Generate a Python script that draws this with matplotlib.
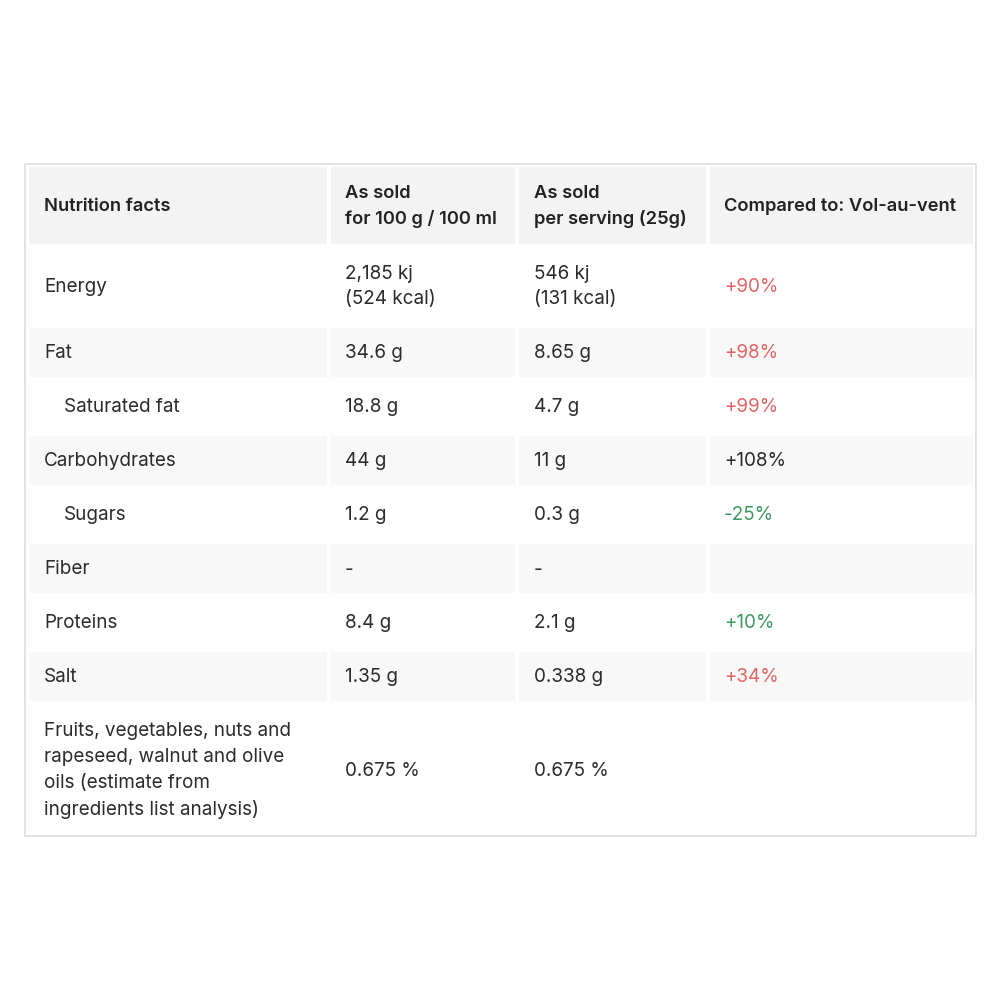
import matplotlib
matplotlib.use("Agg")
import matplotlib.pyplot as plt
from matplotlib.patches import Rectangle

plt.rcParams['font.family'] = ['Inter', 'DejaVu Sans']

headers = ["Nutrition facts", "As sold\nfor 100 g / 100 ml", "As sold\nper serving (25g)",
           "Compared to: Vol-au-vent"]
nutrients = ["Energy", "Fat", "Saturated fat", "Carbohydrates", "Sugars", "Fiber",
             "Proteins", "Salt",
             "Fruits, vegetables, nuts and\nrapeseed, walnut and olive\noils (estimate from\ningredients list analysis)"]
sub_item = [False, False, True, False, True, False, False, False, False]
per_100g = ["2,185 kj\n(524 kcal)", "34.6 g", "18.8 g", "44 g", "1.2 g", "-", "8.4 g",
            "1.35 g", "0.675 %"]
per_serving = ["546 kj\n(131 kcal)", "8.65 g", "4.7 g", "11 g", "0.3 g", "-", "2.1 g",
               "0.338 g", "0.675 %"]
compared = ["+90%", "+98%", "+99%", "+108%", "-25%", "", "+10%", "+34%", ""]
level = ["high", "high", "high", "neutral", "low", "", "low", "high", ""]

level_colors = {"high": "#e06666", "low": "#3f9a62", "neutral": "#2b2b2b", "": "#2b2b2b"}

# layout in pixels
col_edges = [(29, 327), (331, 515), (519, 706), (710, 973)]
text_x = [44, 345, 534, 724]
row_edges = [(167, 244), (248, 323), (328, 377), (381, 431), (436, 485), (490, 539),
             (544, 593), (598, 647), (652, 701), (706, 833)]

fig = plt.figure(figsize=(10, 10), dpi=100)
ax = fig.add_axes([0, 0, 1, 1])
ax.set_xlim(0, 1000)
ax.set_ylim(1000, 0)
ax.axis('off')

ax.add_patch(Rectangle((25, 164), 951, 672, facecolor='white', edgecolor='#dddddd', lw=1.2))

fs = 13.6
ls = 1.55
txt = '#2b2b2b'
for r, (y0, y1) in enumerate(row_edges):
    if r == 0:
        fill = '#f3f3f3'
    elif r % 2 == 0:
        fill = '#f8f8f8'
    else:
        fill = 'white'
    for (x0, x1) in col_edges:
        ax.add_patch(Rectangle((x0, y0), x1 - x0, y1 - y0, facecolor=fill, edgecolor='none'))
    yc = (y0 + y1) / 2 + 1
    if r == 0:
        for c, h in enumerate(headers):
            ax.text(text_x[c], yc, h, fontsize=13.2, fontweight='semibold', color='#222222',
                    va='center', ha='left', linespacing=1.5)
        continue
    i = r - 1
    x_name = text_x[0] + (20 if sub_item[i] else 0)
    ax.text(x_name, yc, nutrients[i], fontsize=fs, color=txt, va='center', ha='left',
            linespacing=ls)
    ax.text(text_x[1], yc, per_100g[i], fontsize=fs, color=txt, va='center', ha='left',
            linespacing=ls)
    ax.text(text_x[2], yc, per_serving[i], fontsize=fs, color=txt, va='center', ha='left',
            linespacing=ls)
    ax.text(text_x[3], yc, compared[i], fontsize=fs, color=level_colors[level[i]],
            va='center', ha='left')

fig.savefig('out.png', dpi=100, facecolor='white')
